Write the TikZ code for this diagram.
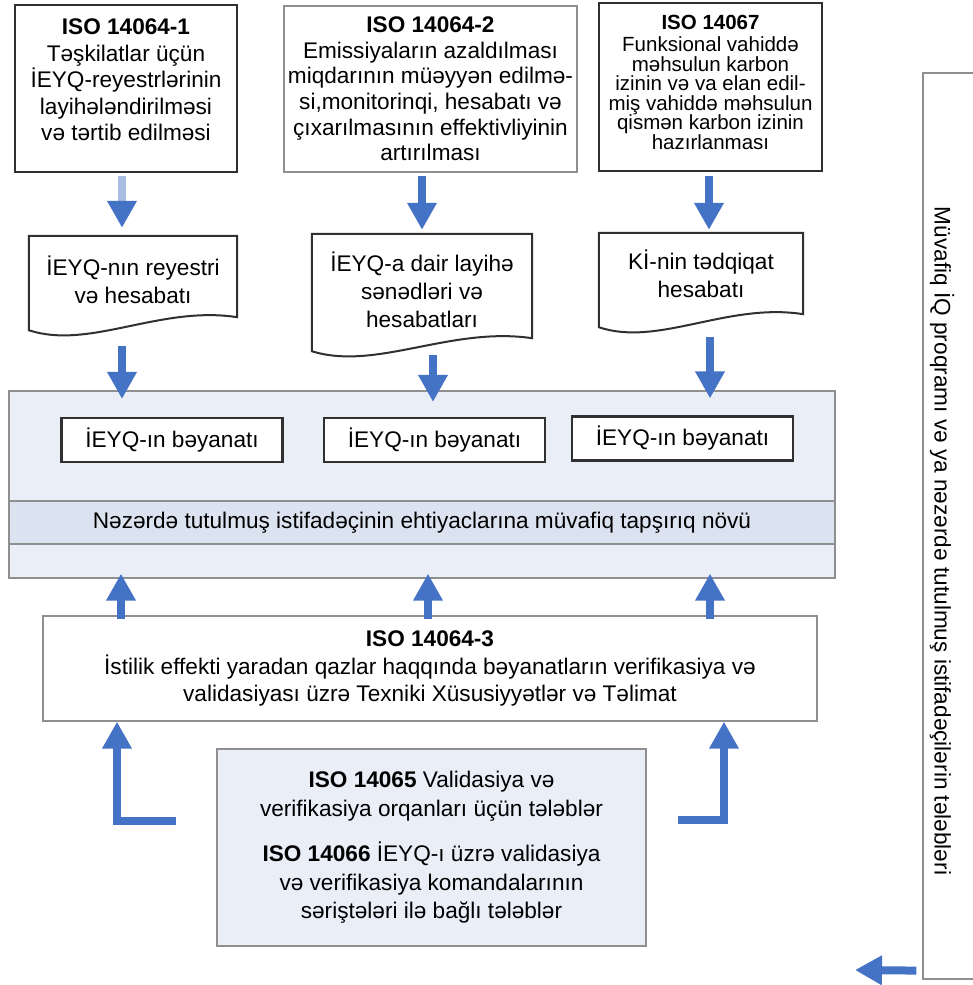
\documentclass[tikz,border=0pt]{standalone}
\usepackage{fontspec}
\setmainfont{Liberation Sans}
\usetikzlibrary{arrows.meta, calc}

\definecolor{arrowblue}{HTML}{4472C4}
\definecolor{paleblue}{HTML}{A9BCE2}
\definecolor{panelfill}{HTML}{E9EEF7}
\definecolor{bandfill}{HTML}{DCE3F0}
\definecolor{framegrey}{HTML}{8F8F8F}
\definecolor{framedark}{HTML}{303030}

\newcommand{\tightlines}{\fontsize{20.5}{19.5}\selectfont\lineskiplimit=-20pt\relax}

\tikzstyle{isobox} = [
    rectangle,
    draw=framedark,
    line width=2.2pt,
    fill=white,
    align=center,
    inner sep=0pt,
    font=\fontsize{22.6}{26.5}\selectfont
]
\tikzstyle{isoplain} = [
    rectangle,
    draw=framegrey,
    line width=1.3pt,
    fill=white,
    align=center,
    inner sep=0pt,
    font=\fontsize{22.6}{27.5}\selectfont
]
\tikzstyle{docbox} = [
    rectangle,
    align=center,
    inner sep=0pt,
    font=\fontsize{22.6}{28}\selectfont
]
\tikzstyle{docline} = [draw=framedark, line width=2pt]
\tikzstyle{statement} = [
    rectangle,
    draw=framedark,
    line width=2.2pt,
    fill=white,
    minimum width=221pt,
    minimum height=44pt,
    inner sep=0pt,
    font=\fontsize{22.6}{26}\selectfont
]
\tikzstyle{panelbox} = [
    rectangle,
    draw=framegrey,
    line width=1.3pt,
    fill=panelfill,
    align=center,
    inner sep=0pt,
    font=\fontsize{22.6}{28.5}\selectfont
]
\tikzstyle{arrow} = [line width=8pt, draw=arrowblue, -{Triangle[width=28pt,length=27pt]}]

% document symbol with a wavy lower edge
\newcommand{\docoutline}[1]{%
  \draw[docline] ([yshift=-6pt]#1.south west) -- (#1.north west) -- (#1.north east) -- ([yshift=7pt]#1.south east)
    .. controls ($(#1.south west)!0.63!(#1.south east)+(0pt,19pt)$) and ($(#1.south west)!0.29!(#1.south east)+(0pt,-26pt)$) .. ([yshift=-6pt]#1.south west) -- cycle;}

\begin{document}
\begin{tikzpicture}[x=1pt, y=-1pt]

\fill[white] (0,0) rectangle (973,985);
\useasboundingbox (0,0) rectangle (973,985);

% standards at the top
\node (iso1) [isobox, minimum width=222pt, minimum height=167pt, text depth=17pt] at (126,88.5)
{\textbf{ISO 14064-1}\\Təşkilatlar üçün\\İEYQ-reyestrlərinin\\layihələndirilməsi\\və tərtib edilməsi};

\node (iso2) [isoplain, minimum width=293pt, minimum height=166pt, font=\fontsize{22.6}{25.6}\selectfont] at (430.5,89)
{\textbf{ISO 14064-2}\\Emissiyaların azaldılması\\miqdarının müəyyən edilmə-\\si,monitorinqi, hesabatı və\\çıxarılmasının effektivliyinin\\artırılması};

\node (iso67) [isobox, minimum width=223pt, minimum height=168pt, text depth=10pt, font=\tightlines] at (710.5,87)
{\textbf{ISO 14067}\\[3pt]Funksional vahiddə\\məhsulun karbon\\izinin və va elan edil-\\miş vahiddə məhsulun\\qismən karbon izinin\\hazırlanması};

% reports
\node (report1) [docbox, minimum width=208pt, minimum height=88pt] at (133,280)
{İEYQ-nın reyestri\\və hesabatı};
\node (report2) [docbox, minimum width=220pt, minimum height=111pt] at (422,289.5)
{İEYQ-a dair layihə\\sənədləri və\\hesabatları};
\node (report3) [docbox, minimum width=204pt, minimum height=88pt, text depth=7pt] at (701,277)
{Kİ-nin tədqiqat\\hesabatı};
\docoutline{report1}
\docoutline{report2}
\docoutline{report3}

% statements
\node (panel) [panelbox, minimum width=826pt, minimum height=187pt] at (422,484.5) {};
\node (purpose) [panelbox, fill=bandfill, minimum width=826pt, minimum height=43pt] at (422,522.5)
{Nəzərdə tutulmuş istifadəçinin ehtiyaclarına müvafiq tapşırıq növü};
\node (claim1) [statement] at (172,440) {İEYQ-ın bəyanatı};
\node (claim2) [statement] at (434.5,440) {İEYQ-ın bəyanatı};
\node (claim3) [statement] at (682.5,438.5) {İEYQ-ın bəyanatı};

% verification
\node (iso3) [isoplain, minimum width=774pt, minimum height=105pt] at (430,668.5)
{\textbf{ISO 14064-3}\\İstilik effekti yaradan qazlar haqqında bəyanatların verifikasiya və\\validasiyası üzrə Texniki Xüsusiyyətlər və Təlimat};

\node (iso65) [panelbox, minimum width=429pt, minimum height=197pt] at (431.5,847.5)
{\textbf{ISO 14065} Validasiya və\\verifikasiya orqanları üçün tələblər\\[17pt]\textbf{ISO 14066} İEYQ-ı üzrə validasiya\\və verifikasiya komandalarının\\səriştələri ilə bağlı tələblər};

% user requirements
\node (userreq) [isoplain, minimum width=57pt, minimum height=906pt] at (951.5,526) {};
\node (userreqlabel) [rotate=-90, font=\fontsize{22.6}{26}\selectfont] at ([xshift=-9.5pt,yshift=-15pt]userreq.center)
{Müvafiq İQ proqramı və ya nəzərdə tutulmuş istifadəçilərin tələbləri};
\coordinate (usersout) at (855,970);

% arrows
\draw [arrow, draw=paleblue, -{Triangle[width=28pt,length=27pt,color=arrowblue]}, shorten <=3pt, shorten >=8pt]
    ([xshift=-4pt]iso1.south) -- ([xshift=-11pt]report1.north);
\draw [arrow, shorten <=3pt, shorten >=4pt] ([xshift=-8.5pt]iso2.south) -- (report2.north);
\draw [arrow, shorten <=4pt, shorten >=3pt] ([xshift=-1.5pt]iso67.south) -- ([xshift=8pt]report3.north);

\draw [arrow, shorten <=22pt, shorten >=18pt] ([xshift=-11pt]report1.south) -- ([xshift=-50pt]claim1.north);
\draw [arrow, shorten <=10pt, shorten >=15pt] ([xshift=11pt]report2.south) -- ([xshift=-1.5pt]claim2.north);
\draw [arrow, shorten <=16pt, shorten >=17pt] ([xshift=9pt]report3.south) -- ([xshift=27.5pt]claim3.north);

\draw [arrow, shorten <=-4pt, shorten >=-5pt] ([xshift=-309pt]iso3.north) -- ([xshift=-301pt]panel.south);
\draw [arrow, shorten <=-4pt, shorten >=-5pt] ([xshift=-2pt]iso3.north) -- ([xshift=6pt]panel.south);
\draw [arrow, shorten <=-4pt, shorten >=-5pt] ([xshift=280pt]iso3.north) -- ([xshift=288pt]panel.south);

\draw [arrow] ([xshift=-40pt,yshift=26.5pt]iso65.west) -| ([xshift=-313pt]iso3.south);
\draw [arrow] ([xshift=31pt,yshift=27.5pt]iso65.east) -| ([xshift=294pt]iso3.south);

\draw [arrow, shorten <=6pt] ([yshift=9pt]userreq.south west) -- (usersout);

\end{tikzpicture}
\end{document}
